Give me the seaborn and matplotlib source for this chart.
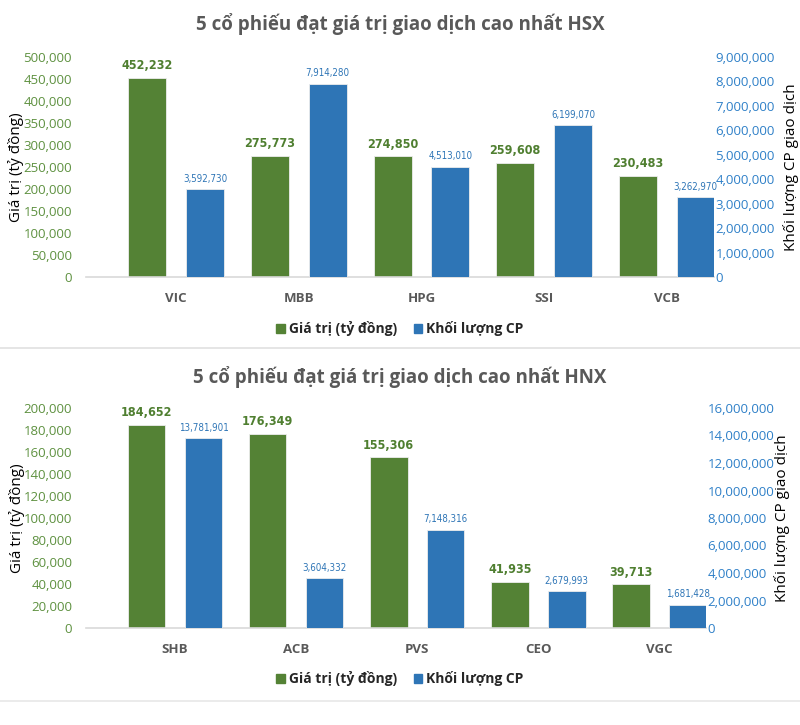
import matplotlib
matplotlib.use("Agg")
import matplotlib.pyplot as plt
import seaborn as sns
import pandas as pd
from matplotlib import font_manager
from matplotlib.patches import Patch
from matplotlib.lines import Line2D
from matplotlib.ticker import FuncFormatter

# ---- data ----
hsx_codes = ["VIC", "MBB", "HPG", "SSI", "VCB"]
hsx_value = [452232, 275773, 274850, 259608, 230483]
hsx_volume = [3592730, 7914280, 4513010, 6199070, 3262970]

hnx_codes = ["SHB", "ACB", "PVS", "CEO", "VGC"]
hnx_value = [184652, 176349, 155306, 41935, 39713]
hnx_volume = [13781901, 3604332, 7148316, 2679993, 1681428]

series_names = ["Giá trị (tỷ đồng)", "Khối lượng CP"]
titles = ["5 cổ phiếu đạt giá trị giao dịch cao nhất HSX",
          "5 cổ phiếu đạt giá trị giao dịch cao nhất HNX"]
left_ticks = [list(range(0, 500001, 50000)), list(range(0, 200001, 20000))]
right_ticks = [list(range(0, 9000001, 1000000)), list(range(0, 16000001, 2000000))]

GREEN = "#548235"
BLUE = "#2E75B6"
GRAY = "#595959"

sns.set_theme(style="white")
plt.rcParams["font.family"] = ["Open Sans", "DejaVu Sans"]

# narrow font for the bar labels, if one is around
installed = {f.name for f in font_manager.fontManager.ttflist}
if "Liberation Sans Narrow" in installed:
    NARROW = dict(family=["Liberation Sans Narrow", "DejaVu Sans"])
else:
    NARROW = dict(family=["DejaVu Sans"], fontstretch="condensed")

fig = plt.figure(figsize=(8, 7.25), dpi=100)
W, H = 800, 725


def px_axes(left, top, right, bottom):
    return fig.add_axes([left / W, 1 - bottom / H, (right - left) / W, (bottom - top) / H])


def real_bars(container):
    return len(container) > 0 and all(b is not None for b in container)


def draw_panel(ax, codes, values, volumes, lt, rt, title, title_y, legend_y):
    df = pd.DataFrame({
        "ma": codes * 2,
        "so_lieu": values + volumes,
        "loai": [series_names[0]] * len(codes) + [series_names[1]] * len(codes),
    })
    ax2 = ax.twinx()
    opts = dict(x="ma", y="so_lieu", hue="loai", hue_order=series_names,
                palette=[GREEN, BLUE], width=0.94, gap=0.34, dodge=True,
                saturation=1, legend=False, order=codes,
                edgecolor="#EDEDED", linewidth=0.6)
    sns.barplot(data=df[df["loai"] == series_names[0]], ax=ax, **opts)
    sns.barplot(data=df[df["loai"] == series_names[1]], ax=ax2, **opts)

    for c in ax.containers:
        if real_bars(c):
            ax.bar_label(c, labels=[f"{v:,}" for v in values], padding=4, color="#4F7F30",
                         fontsize=9, fontweight="bold", **NARROW)
    for c in ax2.containers:
        if real_bars(c):
            ax2.bar_label(c, labels=[f"{v:,}" for v in volumes], padding=4, color=BLUE,
                          fontsize=7, **NARROW)

    ax.set_ylim(0, lt[-1])
    ax2.set_ylim(0, rt[-1])
    ax.set_yticks(lt)
    ax2.set_yticks(rt)
    fmt = FuncFormatter(lambda v, p: f"{int(v):,}")
    ax.yaxis.set_major_formatter(fmt)
    ax2.yaxis.set_major_formatter(fmt)
    ax.set_xlim(-0.735, 4.385)

    ax.tick_params(axis="y", length=0, pad=10, labelsize=9.5, labelcolor="#5E9140")
    ax2.tick_params(axis="y", length=0, pad=1, labelsize=9.5, labelcolor="#2F80C8")
    ax.tick_params(axis="x", length=0, pad=11, labelsize=9.5, labelcolor=GRAY)
    for lab in ax.get_xticklabels():
        lab.set_fontweight("bold")

    ax.set_xlabel("")
    ax.set_ylabel("Giá trị (tỷ đồng)", fontsize=11, color="black")
    ax2.set_ylabel("Khối lượng CP giao dịch", fontsize=11, color="black")
    ax.yaxis.set_label_coords(-0.099, 0.5)
    ax2.yaxis.set_label_coords(1.11, 0.5)

    for a in (ax, ax2):
        for s in a.spines.values():
            s.set_visible(False)
        a.grid(False)
    ax.spines["bottom"].set_visible(True)
    ax.spines["bottom"].set_color("#D9D9D9")
    ax.spines["bottom"].set_linewidth(1.2)

    fig.text(0.5, 1 - title_y / H, title, ha="center", va="center",
             fontsize=13.5, fontweight="bold", color=GRAY)

    handles = [Patch(color=GREEN), Patch(color=BLUE)]
    fig.legend(handles, series_names, loc="center", bbox_to_anchor=(0.5, 1 - legend_y / H),
               ncol=2, frameon=False, handlelength=0.6, handleheight=0.6,
               handletextpad=0.3, columnspacing=1.2,
               prop={"size": 10, "weight": "bold"})


ax_top = px_axes(86, 57, 714, 277)
draw_panel(ax_top, hsx_codes, hsx_value, hsx_volume, left_ticks[0], right_ticks[0],
           titles[0], 24, 329)

ax_bot = px_axes(86, 408, 706, 628)
draw_panel(ax_bot, hnx_codes, hnx_value, hnx_volume, left_ticks[1], right_ticks[1],
           titles[1], 377, 679)

# separators between the two panels
fig.add_artist(Line2D([0, 1], [1 - 348 / H] * 2, color="#E0E0E0", lw=1.2))
fig.add_artist(Line2D([0, 1], [1 - 701 / H] * 2, color="#E8E8E8", lw=1.2))

fig.savefig("out.png", dpi=100)
